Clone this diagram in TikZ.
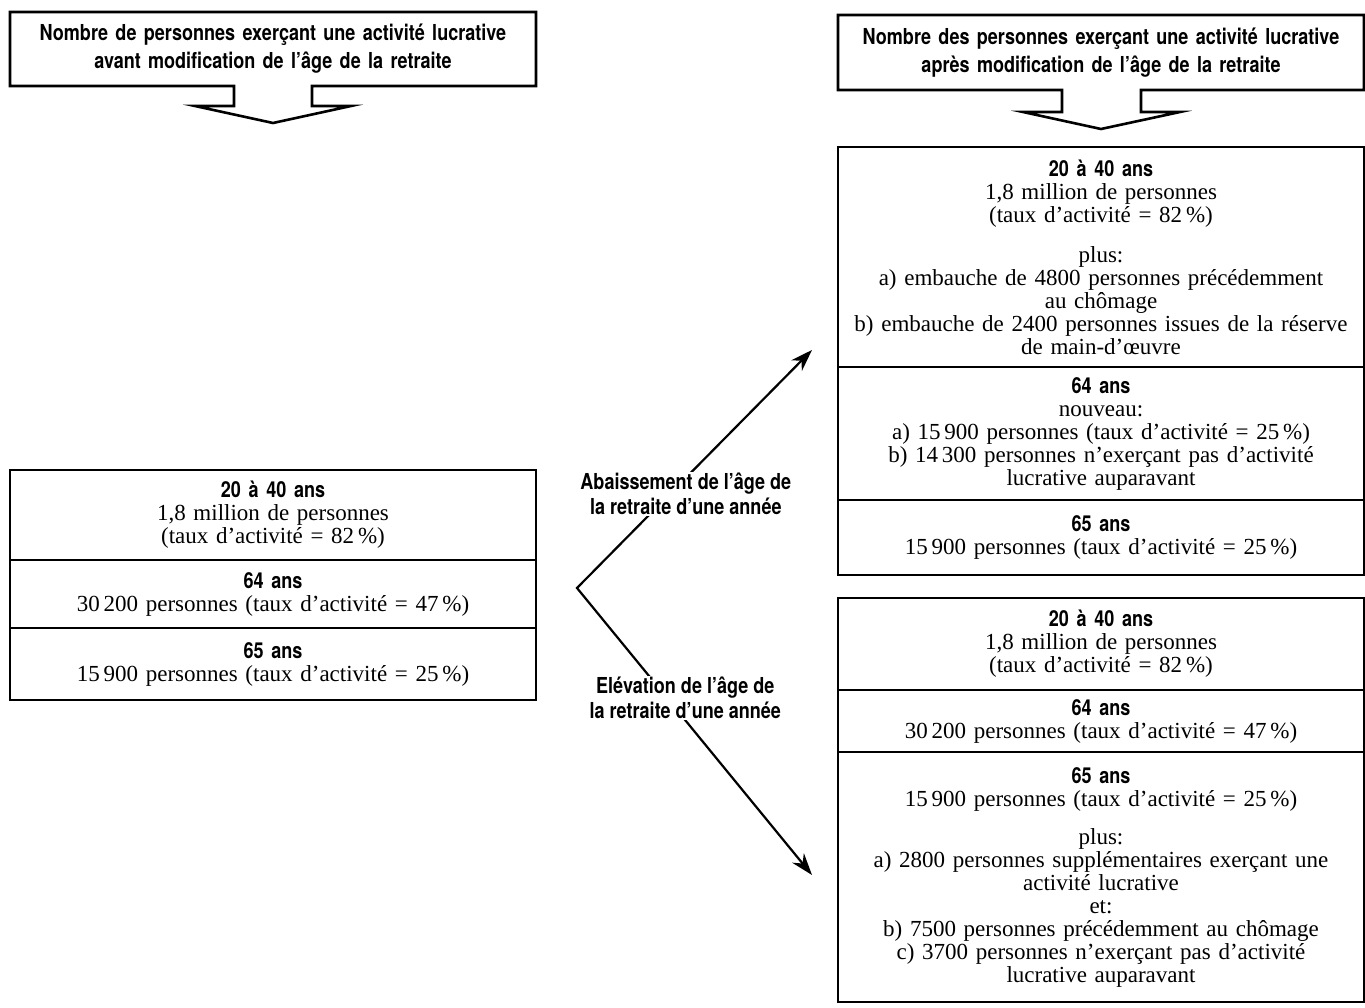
\documentclass[tikz,border=0pt]{standalone}
\usepackage{fontspec}
\setmainfont{Liberation Serif}
\newfontfamily\cnfont[FakeStretch=0.82]{TeX Gyre Heros}
\usetikzlibrary{positioning, arrows.meta, calc}
\newcommand{\agefont}{\cnfont\bfseries\fontsize{22}{24}\selectfont}
\tikzstyle{header} = [
    rectangle,
    minimum width=526pt,
    text width=500pt,
    align=center,
    outer sep=0pt,
    font=\cnfont\bfseries\fontsize{22}{28}\selectfont
]
\tikzstyle{cell} = [
    rectangle,
    draw=black,
    line width=2.6pt,
    minimum width=526pt,
    text width=506pt,
    align=center,
    inner sep=0pt,
    outer sep=0pt,
    font=\fontsize{23}{23}\selectfont
]
\tikzstyle{outline} = [line width=2.6pt, line join=miter]
\tikzstyle{branch} = [
    line width=2.2pt,
    {Stealth[length=22pt,width=15pt]}-{Stealth[length=22pt,width=15pt]}
]
\tikzstyle{branchtext} = [
    fill=white,
    align=center,
    inner sep=1pt,
    font=\cnfont\bfseries\fontsize{22}{25}\selectfont
]
\begin{document}
\begin{tikzpicture}[x=1pt, y=-1pt]
\useasboundingbox (0,0) rectangle (1365,1008);

% headers
\node (before) [header, minimum height=74pt, anchor=north west] at (10,12)
{Nombre de personnes exerçant une activité lucrative\\ avant modification de l’âge de la retraite};
\draw [outline] (before.south west) -- (before.north west) -- (before.north east) -- (before.south east)
    -- ($(before.south)+(39,0)$) -- ++(0,20) -- ++(39,0) -- ($(before.south)+(0,37)$)
    -- ($(before.south)+(-78,20)$) -- ++(39,0) -- ++(0,-20) -- cycle;

\node (after) [header, minimum height=75pt, anchor=north west] at (838,15)
{Nombre des personnes exerçant une activité lucrative\\ après modification de l’âge de la retraite};
\draw [outline] (after.south west) -- (after.north west) -- (after.north east) -- (after.south east)
    -- ($(after.south)+(40,0)$) -- ++(0,22) -- ++(39,0) -- ($(after.south)+(0,39)$)
    -- ($(after.south)+(-78,22)$) -- ++(39,0) -- ++(0,-22) -- cycle;

% before
\node (l1) [cell, minimum height=90pt, anchor=north west] at (10,470)
{{\agefont 20 à 40 ans}\\ 1,8 million de personnes\\ (taux d’activité = 82\,\%)};
\node (l2) [cell, minimum height=68pt, below=0pt of l1]
{{\agefont 64 ans}\\ 30\,200 personnes (taux d’activité = 47\,\%)};
\node (l3) [cell, minimum height=72pt, below=0pt of l2]
{{\agefont 65 ans}\\ 15\,900 personnes (taux d’activité = 25\,\%)};

% lowering
\node (a1) [cell, minimum height=220pt, anchor=north west] at (838,147)
{{\agefont 20 à 40 ans}\\ 1,8 million de personnes\\ (taux d’activité = 82\,\%)\\[17pt]
plus:\\ a) embauche de 4800 personnes précédemment\\ au chômage\\
b) embauche de 2400 personnes issues de la réserve\\ de main-d’œuvre};
\node (a2) [cell, minimum height=133pt, below=0pt of a1]
{{\agefont 64 ans}\\ nouveau:\\ a) 15\,900 personnes (taux d’activité = 25\,\%)\\
b) 14\,300 personnes n’exerçant pas d’activité\\ lucrative auparavant};
\node (a3) [cell, minimum height=75pt, below=0pt of a2]
{{\agefont 65 ans}\\ 15\,900 personnes (taux d’activité = 25\,\%)};

% raising
\node (e1) [cell, minimum height=92pt, anchor=north west] at (838,598)
{{\agefont 20 à 40 ans}\\ 1,8 million de personnes\\ (taux d’activité = 82\,\%)};
\node (e2) [cell, minimum height=62pt, below=0pt of e1]
{{\agefont 64 ans}\\ 30\,200 personnes (taux d’activité = 47\,\%)};
\node (e3) [cell, minimum height=250pt, below=0pt of e2]
{{\agefont 65 ans}\\ 15\,900 personnes (taux d’activité = 25\,\%)\\[15pt]
plus:\\ a) 2800 personnes supplémentaires exerçant une\\ activité lucrative\\ et:\\
b) 7500 personnes précédemment au chômage\\ c) 3700 personnes n’exerçant pas d’activité\\
lucrative auparavant};

% branches
\coordinate (fork) at (577,588);
\coordinate (upEnd) at ($(a1.south west)+(-26,-17)$);
\coordinate (downEnd) at ($(e3.west)+(-26,-2)$);
\draw [branch] (upEnd)
    -- node[branchtext, pos=0.605, xshift=16pt] {Abaissement de l’âge de\\ la retraite d’une année} (fork)
    -- node[branchtext, pos=0.384, xshift=18pt] {Elévation de l’âge de\\ la retraite d’une année} (downEnd);

\end{tikzpicture}
\end{document}
